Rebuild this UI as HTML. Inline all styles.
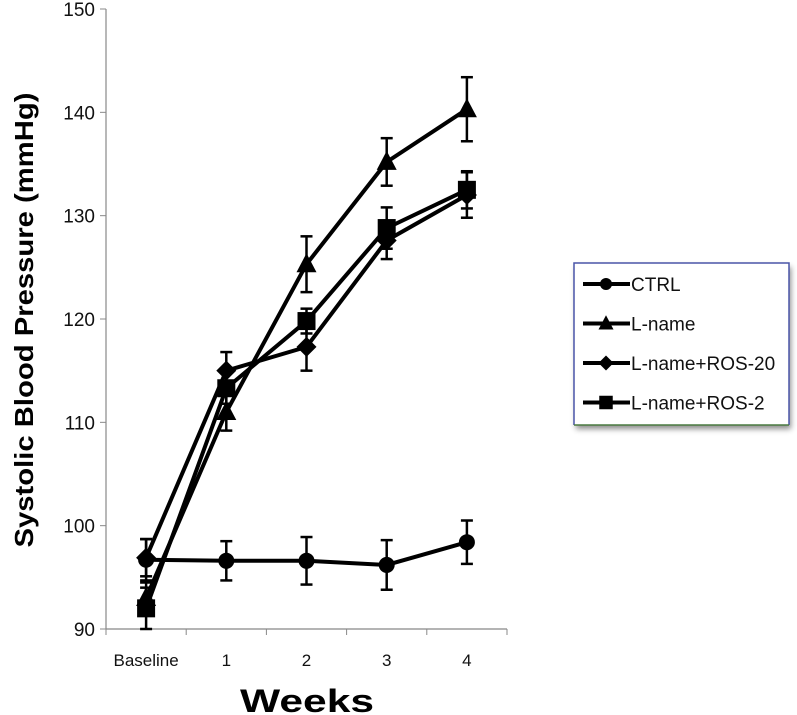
<!DOCTYPE html>
<html><head><meta charset="utf-8"><style>
body{margin:0;background:#fff;}
svg{display:block;font-family:"Liberation Sans",sans-serif;}
</style></head><body>
<svg id="chart" width="797" height="715">
<defs><filter id="sh" x="-10%" y="-10%" width="130%" height="130%"><feDropShadow dx="2" dy="4" stdDeviation="3" flood-color="#000" flood-opacity="0.45"/></filter></defs>
<g id="axes"></g><g id="series"></g>
<text transform="translate(33,320) rotate(-90)" text-anchor="middle" font-size="26" font-weight="bold" textLength="455" lengthAdjust="spacingAndGlyphs">Systolic Blood Pressure (mmHg)</text>
<text x="307" y="712" text-anchor="middle" font-size="32" font-weight="bold" textLength="134" lengthAdjust="spacingAndGlyphs">Weeks</text>
<g>
<rect x="574" y="263" width="215" height="162" fill="#fff" filter="url(#sh)"/>
<path d="M574,425 V263 H789 V425" fill="none" stroke="#4a55a8" stroke-width="1.5"/>
<line x1="574" y1="425" x2="789" y2="425" stroke="#4a7a40" stroke-width="1.5"/>
<g id="legend-items"></g>
</g>
</svg>
<script>
const categories=["Baseline","1","2","3","4"];
const yTicks=[90,100,110,120,130,140,150];
const seriesNames=["CTRL","L-name","L-name+ROS-20","L-name+ROS-2"];
const markers=["circle","triangle","diamond","square"];
const ctrlVals=[96.7,96.6,96.6,96.2,98.4];
const ctrlErr=[2.0,1.9,2.3,2.4,2.1];
const lnameVals=[93.0,111.0,125.3,135.2,140.3];
const lnameErr=[1.5,1.8,2.7,2.3,3.1];
const ros20Vals=[96.9,115.0,117.3,127.6,132.0];
const ros20Err=[1.8,1.8,2.3,1.8,2.2];
const ros2Vals=[92.0,113.3,119.8,128.8,132.5];
const ros2Err=[2.0,1.5,1.2,2.0,1.8];
const NS="http://www.w3.org/2000/svg";
const x0=106,x1=507,yTop=9,yBot=629,ymin=90,ymax=150;
const step=(x1-x0)/categories.length;
const X=i=>x0+step*(i+0.5);
const Y=v=>yBot-(v-ymin)/(ymax-ymin)*(yBot-yTop);
function mk(tag,attrs,parent){const e=document.createElementNS(NS,tag);for(const k in attrs)e.setAttribute(k,attrs[k]);parent.appendChild(e);return e;}
const axes=document.getElementById('axes');
let a=mk('line',{x1:x0,y1:yTop,x2:x0,y2:yBot,stroke:'#888','stroke-width':1.2},axes);


a=mk('line',{x1:x0,y1:yBot,x2:x1,y2:yBot,stroke:'#888','stroke-width':1.2},axes);


yTicks.forEach(t=>{mk('line',{x1:x0-6,y1:Y(t),x2:x0,y2:Y(t),stroke:'#888'},axes);
const tx=mk('text',{x:x0-11,y:Y(t)+7,'text-anchor':'end','font-size':19,fill:'#111'},axes);tx.textContent=t;

});
for(let i=0;i<=categories.length;i++)mk('line',{x1:x0+step*i,y1:yBot,x2:x0+step*i,y2:yBot+6,stroke:'#888'},axes);
categories.forEach((c,i)=>{const tx=mk('text',{x:X(i),y:yBot+37,'text-anchor':'middle','font-size':17,fill:'#111'},axes);tx.textContent=c;

});
function marker(type,cx,cy,g,s){
 if(type==='circle')return mk('circle',{cx:cx,cy:cy,r:8*s,fill:'#000'},g);
 if(type==='triangle')return mk('polygon',{points:`${cx},${cy-11*s} ${cx+10*s},${cy+8*s} ${cx-10*s},${cy+8*s}`,fill:'#000'},g);
 if(type==='diamond')return mk('polygon',{points:`${cx},${cy-10*s} ${cx+10*s},${cy} ${cx},${cy+10*s} ${cx-10*s},${cy}`,fill:'#000'},g);
 return mk('rect',{x:cx-9*s,y:cy-9*s,width:18*s,height:18*s,fill:'#000'},g);}
const allVals=[ctrlVals,lnameVals,ros20Vals,ros2Vals];
const allErr=[ctrlErr,lnameErr,ros20Err,ros2Err];
const sg=document.getElementById('series');
allVals.forEach((vals,si)=>{
 const g=mk('g',{},sg);
 
 
 vals.forEach((v,i)=>{const e=allErr[si][i];
  mk('line',{x1:X(i),y1:Y(v+e),x2:X(i),y2:Y(v-e),stroke:'#000','stroke-width':2.5},g);
  mk('line',{x1:X(i)-6,y1:Y(v+e),x2:X(i)+6,y2:Y(v+e),stroke:'#000','stroke-width':2.5},g);
  mk('line',{x1:X(i)-6,y1:Y(v-e),x2:X(i)+6,y2:Y(v-e),stroke:'#000','stroke-width':2.5},g);});
 const ln=mk('polyline',{points:vals.map((v,i)=>X(i)+','+Y(v)).join(' '),fill:'none',stroke:'#000','stroke-width':4},g);
 
 
 vals.forEach((v,i)=>{const m=marker(markers[si],X(i),Y(v),g,1);
  
  });
});
const lg=document.getElementById('legend-items');
seriesNames.forEach((n,i)=>{const y=284+i*39.5;
 const g=mk('g',{},lg);
 
 
 mk('line',{x1:583,y1:y,x2:630,y2:y,stroke:'#000','stroke-width':4},g);
 marker(markers[i],606,y,g,0.75);
 const t=mk('text',{x:631,y:y+7,'font-size':19,fill:'#111'},g);t.textContent=n;});
</script>
</body></html>
